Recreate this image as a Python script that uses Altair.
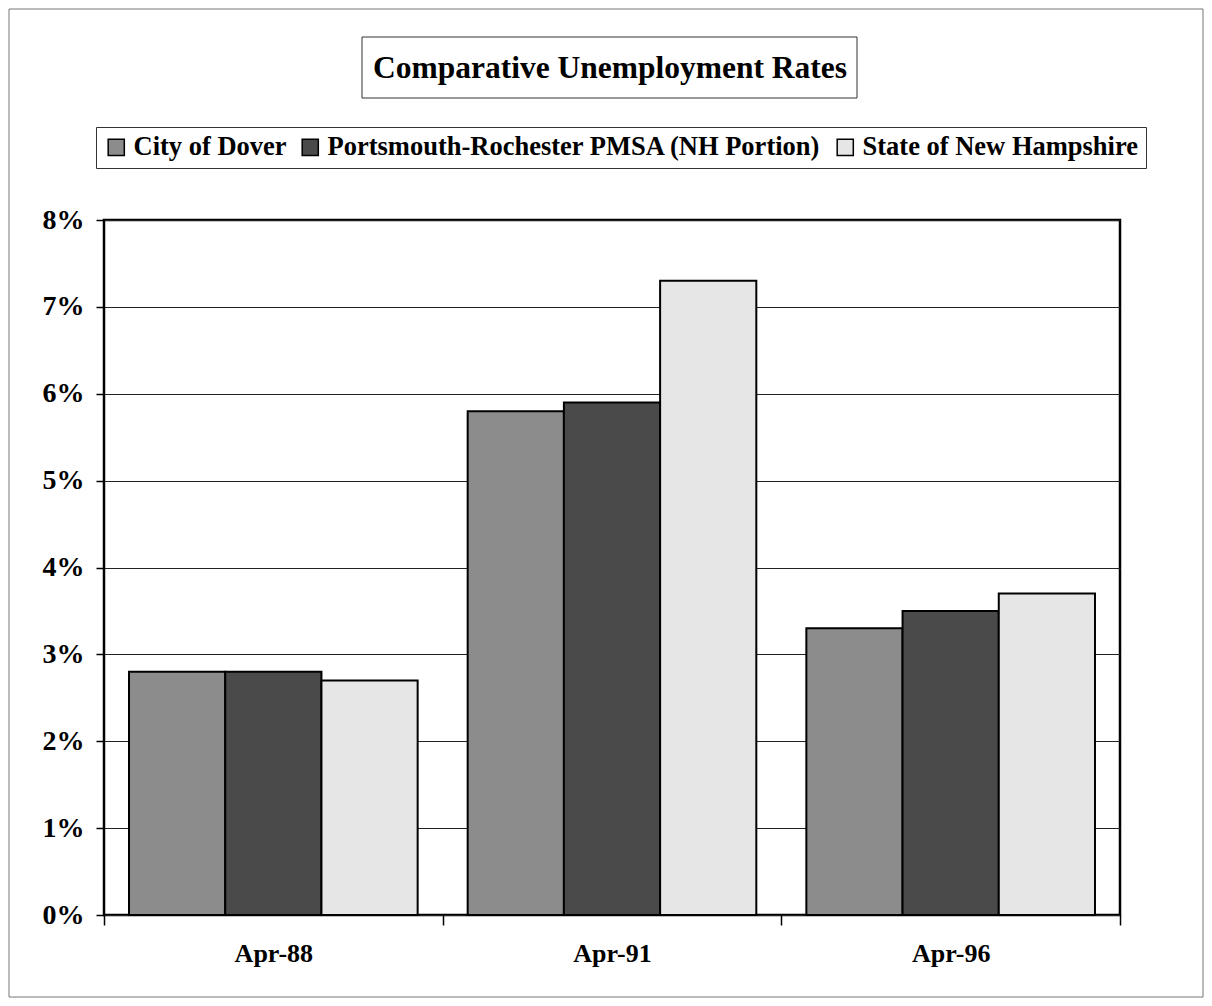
import altair as alt
import pandas as pd

periods = ["Apr-88", "Apr-91", "Apr-96"]
series = ["City of Dover", "Portsmouth-Rochester PMSA (NH Portion)", "State of New Hampshire"]
dover = [2.8, 5.8, 3.3]
pmsa = [2.8, 5.9, 3.5]
state = [2.7, 7.3, 3.7]
colors = ["#8c8c8c", "#4a4a4a", "#e6e6e6"]
y_ticks = [0, 1, 2, 3, 4, 5, 6, 7, 8]
title_text = "Comparative Unemployment Rates"

rows = []
for i, p in enumerate(periods):
    for s, vals in zip(series, [dover, pmsa, state]):
        rows.append({"period": p, "series": s, "rate": vals[i]})
df = pd.DataFrame(rows)

FONT = "Liberation Serif"
W, H = 1016, 695

bars = alt.Chart(df).mark_bar(stroke="black", strokeWidth=2, opacity=1).encode(
    x=alt.X("period:N", sort=periods,
            scale=alt.Scale(paddingInner=0, paddingOuter=0),
            axis=alt.Axis(title=None, labelAngle=0, tickBand="extent", tickSize=10,
                          tickColor="black", tickWidth=1.5, labelPadding=15,
                          labelFontSize=26, labelFont=FONT, labelFontWeight="bold",
                          labelColor="black", domain=False, grid=False)),
    xOffset=alt.XOffset("series:N", sort=series,
                        scale=alt.Scale(paddingInner=0, paddingOuter=0.26)),
    y=alt.Y("rate:Q", scale=alt.Scale(domain=[0, 8]),
            axis=alt.Axis(title=None, values=y_ticks, labelExpr="datum.value + '%'",
                          tickSize=8, tickColor="black", tickWidth=1.5, labelPadding=12,
                          labelFontSize=28, labelFont=FONT, labelFontWeight="bold",
                          labelColor="black", domain=False, grid=True,
                          gridColor="#222", gridWidth=1)),
    color=alt.Color("series:N", sort=series,
                    scale=alt.Scale(domain=series, range=colors),
                    legend=alt.Legend(title=None, orient="none", legendX=-8, legendY=-93,
                                      direction="horizontal", symbolType="square",
                                      symbolSize=260, symbolStrokeColor="black",
                                      symbolStrokeWidth=1.5, symbolOpacity=1,
                                      labelFont=FONT, labelFontSize=26.5,
                                      labelFontWeight="bold", labelColor="black",
                                      labelLimit=600, labelOffset=4, columnPadding=10,
                                      strokeColor="#333", fillColor="white", padding=7)),
)

title_df = pd.DataFrame({"t": [title_text]})
outer = alt.Chart(title_df).mark_rect(fill=None, stroke="#777", strokeWidth=1).encode(
    x=alt.value(-95), x2=alt.value(1099), y=alt.value(-211), y2=alt.value(777))
title_box = alt.Chart(title_df).mark_rect(fill="white", stroke="#333", strokeWidth=1).encode(
    x=alt.value(258), x2=alt.value(753), y=alt.value(-183), y2=alt.value(-122))
title_txt = alt.Chart(title_df).mark_text(font=FONT, fontSize=31.5, fontWeight="bold",
                                          color="black", baseline="middle",
                                          align="center").encode(
    text="t:N", x=alt.value(506), y=alt.value(-151))

chart = alt.layer(outer, bars, title_box, title_txt).properties(
    width=W, height=H,
    autosize=alt.AutoSizeParams(type="none"),
    padding={"left": 96, "top": 212, "right": 84, "bottom": 83},
).configure(background="white").configure_view(stroke="black", strokeWidth=2.5)

chart.save("out.html", embed_options={"renderer": "svg", "actions": False})
